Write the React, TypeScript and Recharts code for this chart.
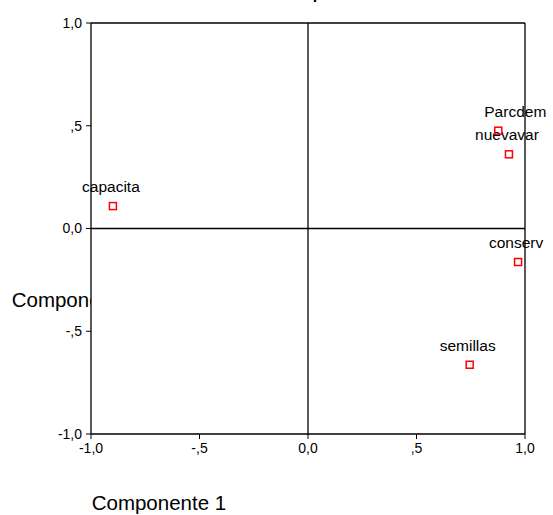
import React from "react";
import {
  ScatterChart,
  Scatter,
  XAxis,
  YAxis,
  ReferenceLine,
} from "recharts";

const variableNames = ["capacita", "nuevavar", "Parcdem", "conserv", "semillas"];
const component1 = [-0.899, 0.926, 0.877, 0.968, 0.745];
const component2 = [0.109, 0.361, 0.476, -0.163, -0.663];
const tickValues = [-1, -0.5, 0, 0.5, 1];
const tickLabels = ["-1,0", "-,5", "0,0", ",5", "1,0"];

const data = variableNames.map((name, i) => ({
  name,
  x: component1[i],
  y: component2[i],
}));

// label nudges (style only) to avoid overlap, as in the original
const labelNudge: Record<string, number> = { Parcdem: 19 };

const fmt = (v: number) => {
  const i = tickValues.findIndex((t) => Math.abs(t - v) < 1e-9);
  return i >= 0 ? tickLabels[i] : String(v);
};

const PointShape = (props: any) => {
  const { cx, cy, payload } = props;
  const dx = (labelNudge[payload.name] || 0) - 2;
  return (
    <g>
      <text
        x={cx + dx}
        y={cy - 14}
        textAnchor="middle"
        fontSize={15.5}
        fill="#000"
      >
        {payload.name}
      </text>
      <rect
        x={cx - 3.5}
        y={cy - 3.5}
        width={7}
        height={7}
        fill="none"
        stroke="#ff0000"
        strokeWidth={1.5}
      />
    </g>
  );
};

const YLabel = (props: any) => {
  const vb = props.viewBox || { x: 0, y: 0, width: 91, height: 411 };
  const clipW = vb.x + vb.width;
  return (
    <g>
      <defs>
        <clipPath id="ylabelclip">
          <rect x={0} y={0} width={clipW} height={515} />
        </clipPath>
      </defs>
      <text
        x={11.7}
        y={307}
        fontSize={20.5}
        fill="#000"
        clipPath="url(#ylabelclip)"
      >
        Componente 2
      </text>
    </g>
  );
};

const XLabel = (props: any) => {
  const vb = props.viewBox || { x: 91, y: 434 };
  return (
    <text x={vb.x + 0.7} y={vb.y + 76} fontSize={20.5} fill="#000">
      Componente 1
    </text>
  );
};

export default function App() {
  return (
    <div
      style={{
        position: "absolute",
        left: 0,
        top: 0,
        fontFamily: "'Liberation Sans', Arial, sans-serif",
        background: "#fff",
      }}
    >
      <ScatterChart
        width={553}
        height={515}
        margin={{ top: 23, right: 28, bottom: 0, left: 0 }}
      >
        <text
          x={290}
          y={-1}
          textAnchor="middle"
          fontSize={16}
          fontWeight="bold"
          fill="#000"
        >
          Gráfico de componentes
        </text>
        <XAxis
          type="number"
          dataKey="x"
          domain={[-1, 1]}
          ticks={tickValues}
          tickFormatter={fmt}
          height={81}
          tickSize={5}
          tickMargin={4}
          stroke="#000"
          tick={{ fill: "#000", fontSize: 14 }}
          axisLine={{ stroke: "#000", strokeWidth: 1.3 }}
          tickLine={{ stroke: "#000" }}
          label={<XLabel />}
        />
        <YAxis
          type="number"
          dataKey="y"
          domain={[-1, 1]}
          ticks={tickValues}
          tickFormatter={fmt}
          width={91}
          tickSize={5}
          tickMargin={4}
          stroke="#000"
          tick={{ fill: "#000", fontSize: 14 }}
          axisLine={{ stroke: "#000", strokeWidth: 1.3 }}
          tickLine={{ stroke: "#000" }}
          label={<YLabel />}
        />
        <ReferenceLine y={1} stroke="#000" strokeWidth={1.3} />
        <ReferenceLine x={1} stroke="#000" strokeWidth={1.3} />
        <ReferenceLine y={0} stroke="#000" strokeWidth={1.3} />
        <ReferenceLine x={0} stroke="#000" strokeWidth={1.3} />
        <Scatter
          data={data}
          isAnimationActive={false}
          shape={<PointShape />}
        />
      </ScatterChart>
    </div>
  );
}
